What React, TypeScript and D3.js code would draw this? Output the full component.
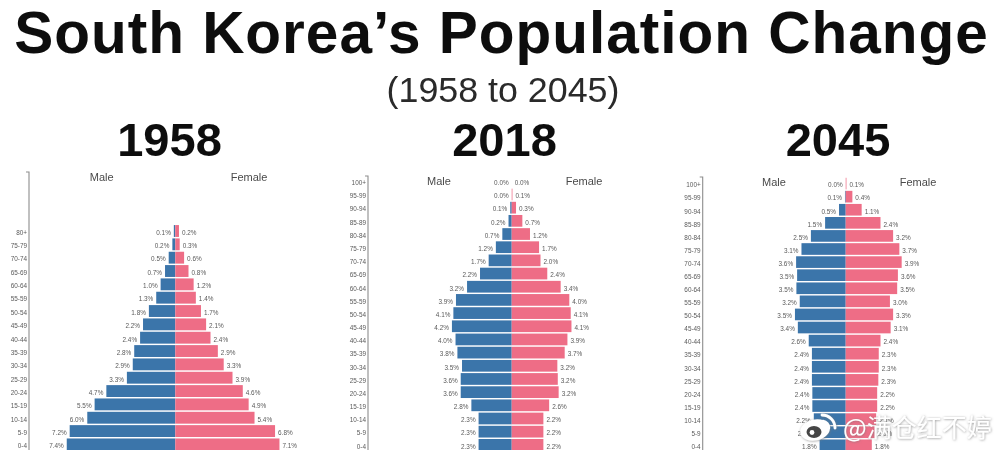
import React from "react";
import * as d3 from "d3";

const agesShort = ["80+","75-79","70-74","65-69","60-64","55-59","50-54","45-49","40-44","35-39","30-34","25-29","20-24","15-19","10-14","5-9","0-4"];
const agesLong = ["100+","95-99","90-94","85-89","80-84","75-79","70-74","65-69","60-64","55-59","50-54","45-49","40-44","35-39","30-34","25-29","20-24","15-19","10-14","5-9","0-4"];

const male1958 = [0.1,0.2,0.45,0.7,1.0,1.3,1.8,2.2,2.4,2.8,2.9,3.3,4.7,5.5,6.0,7.2,7.4];
const female1958 = [0.25,0.3,0.6,0.9,1.25,1.4,1.75,2.1,2.4,2.9,3.3,3.9,4.6,5.0,5.4,6.8,7.1];
const maleLabels1958 = ["0.1%","0.2%","0.5%","0.7%","1.0%","1.3%","1.8%","2.2%","2.4%","2.8%","2.9%","3.3%","4.7%","5.5%","6.0%","7.2%","7.4%"];
const femaleLabels1958 = ["0.2%","0.3%","0.6%","0.8%","1.2%","1.4%","1.7%","2.1%","2.4%","2.9%","3.3%","3.9%","4.6%","4.9%","5.4%","6.8%","7.1%"];

const male2018 = [0,0,0.1,0.22,0.65,1.1,1.6,2.2,3.1,3.87,4.05,4.15,3.9,3.77,3.45,3.54,3.54,2.8,2.3,2.3,2.3];
const female2018 = [0,0.05,0.3,0.74,1.27,1.9,2.0,2.47,3.4,4.0,4.1,4.15,3.87,3.68,3.17,3.2,3.26,2.6,2.2,2.2,2.2];
const maleLabels2018 = ["0.0%","0.0%","0.1%","0.2%","0.7%","1.2%","1.7%","2.2%","3.2%","3.9%","4.1%","4.2%","4.0%","3.8%","3.5%","3.6%","3.6%","2.8%","2.3%","2.3%","2.3%"];
const femaleLabels2018 = ["0.0%","0.1%","0.3%","0.7%","1.2%","1.7%","2.0%","2.4%","3.4%","4.0%","4.1%","4.1%","3.9%","3.7%","3.2%","3.2%","3.2%","2.6%","2.2%","2.2%","2.2%"];

const male2045 = [0,0.05,0.46,1.42,2.4,3.05,3.42,3.35,3.4,3.17,3.5,3.3,2.55,2.33,2.33,2.33,2.3,2.3,2.2,2.1,1.8];
const female2045 = [0.05,0.46,1.1,2.4,3.27,3.7,3.86,3.6,3.55,3.05,3.27,3.1,2.4,2.28,2.28,2.25,2.17,2.17,2.1,2.0,1.8];
const maleLabels2045 = ["0.0%","0.1%","0.5%","1.5%","2.5%","3.1%","3.6%","3.5%","3.5%","3.2%","3.5%","3.4%","2.6%","2.4%","2.4%","2.4%","2.4%","2.4%","2.2%","2.1%","1.8%"];
const femaleLabels2045 = ["0.1%","0.4%","1.1%","2.4%","3.2%","3.7%","3.9%","3.6%","3.5%","3.0%","3.3%","3.1%","2.4%","2.3%","2.3%","2.3%","2.2%","2.2%","2.1%","2.0%","1.8%"];

const BLUE = "#3b74aa";
const PINK = "#ee6d86";
const SANS = "'Liberation Sans', Arial, sans-serif";

type PyramidProps = {
  ages: string[]; male: number[]; female: number[]; maleLabels: string[]; femaleLabels: string[];
  center: number; pxPerPct: number; top: number; step: number; axisX: number; axisTop: number;
  maleX: number; femaleX: number; headerY: number;
};

function Pyramid(p: PyramidProps) {
  const y = d3.scaleBand<string>().domain(p.ages).range([p.top, p.top + p.step * p.ages.length]).paddingInner(0.11).paddingOuter(0.05);
  const xF = d3.scaleLinear().domain([0, 8]).range([p.center, p.center + 8 * p.pxPerPct]);
  const xM = d3.scaleLinear().domain([0, 8]).range([p.center, p.center - 8 * p.pxPerPct]);
  return (
    <g filter="url(#soft)" fontFamily={SANS}>
      <path d={`M${p.axisX - 3},${p.axisTop}H${p.axisX}V450`} fill="none" stroke="#8d8d8d" strokeWidth={1.1} />
      <text x={p.maleX} y={p.headerY} textAnchor="middle" fontSize={11} fill="#4a4a4a">Male</text>
      <text x={p.femaleX} y={p.headerY} textAnchor="middle" fontSize={11} fill="#4a4a4a">Female</text>
      {p.ages.map((a, i) => {
        const t = y(a)!;
        const h = y.bandwidth();
        const yc = t + h / 2 + 3.8;
        return (
          <g key={a}>
            <text x={p.axisX - 2} y={yc} textAnchor="end" fontSize={6.4} fill="#5a5a5a">{a}</text>
            <rect x={xM(p.male[i])} y={t} width={p.center - xM(p.male[i])} height={h} fill={BLUE} />
            <rect x={p.center} y={t} width={xF(p.female[i]) - p.center} height={h} fill={PINK} />
            <text x={xM(p.male[i]) - 3} y={yc} textAnchor="end" fontSize={6.4} fill="#5a5a5a">{p.maleLabels[i]}</text>
            <text x={xF(p.female[i]) + 3} y={yc} fontSize={6.4} fill="#5a5a5a">{p.femaleLabels[i]}</text>
          </g>
        );
      })}
    </g>
  );
}

export default function App() {
  return (
    <svg width={1002} height={450} viewBox="0 0 1002 450" style={{ position: "absolute", left: 0, top: 0, background: "#fff" }}>
      <defs>
        <filter id="soft" x="-5%" y="-5%" width="110%" height="110%">
          <feGaussianBlur stdDeviation={0.55} />
        </filter>
        <filter id="softer" x="-5%" y="-5%" width="110%" height="110%">
          <feGaussianBlur stdDeviation={0.6} />
        </filter>
        <filter id="wmShadow" x="-10%" y="-20%" width="120%" height="140%">
          <feDropShadow dx={0.5} dy={0.5} stdDeviation={0.9} floodColor="#777" floodOpacity={0.75} />
        </filter>
      </defs>

      <g fontFamily={SANS} textAnchor="middle" fill="#0c0c0c" filter="url(#softer)">
        <text x={501.5} y={53} fontSize={58.5} fontWeight={700} letterSpacing={1}>South Korea’s Population Change</text>
        <text x={503} y={101.5} fontSize={35.8} fill="#2a2a2a">(1958 to 2045)</text>
        <text x={169.5} y={156} fontSize={47} fontWeight={700}>1958</text>
        <text x={504.5} y={156} fontSize={47} fontWeight={700}>2018</text>
        <text x={838} y={156} fontSize={47} fontWeight={700}>2045</text>
      </g>

      <Pyramid ages={agesShort} male={male1958} female={female1958} maleLabels={maleLabels1958} femaleLabels={femaleLabels1958}
        center={175.3} pxPerPct={14.67} top={224.4} step={13.33} axisX={29} axisTop={172} maleX={101.7} femaleX={249} headerY={181} />
      <Pyramid ages={agesLong} male={male2018} female={female2018} maleLabels={maleLabels2018} femaleLabels={femaleLabels2018}
        center={511.7} pxPerPct={14.4} top={174.8} step={13.17} axisX={368} axisTop={176} maleX={439} femaleX={584} headerY={184.5} />
      <Pyramid ages={agesLong} male={male2045} female={female2045} maleLabels={maleLabels2045} femaleLabels={femaleLabels2045}
        center={845.7} pxPerPct={14.5} top={177.1} step={13.08} axisX={702.7} axisTop={177} maleX={774} femaleX={918} headerY={186} />

      <g filter="url(#wmShadow)">
        <ellipse cx={815} cy={430} rx={15} ry={10.5} fill="#fff" transform="rotate(-12 815 430)" />
        <ellipse cx={814} cy={432} rx={7.5} ry={6} fill="#444" />
        <circle cx={812} cy={432.5} r={2.4} fill="#fff" />
        <path d="M822,415 A13,13 0 0 1 835,428" fill="none" stroke="#fff" strokeWidth={2.8} strokeLinecap="round" />
        <path d="M823,421 A7,7 0 0 1 829,428" fill="none" stroke="#fff" strokeWidth={2.4} strokeLinecap="round" />
        <text x={843} y={437} fontSize={25} fontFamily="'Noto Sans CJK SC', sans-serif" fill="#fff">@满仓红不婷</text>
      </g>
    </svg>
  );
}
